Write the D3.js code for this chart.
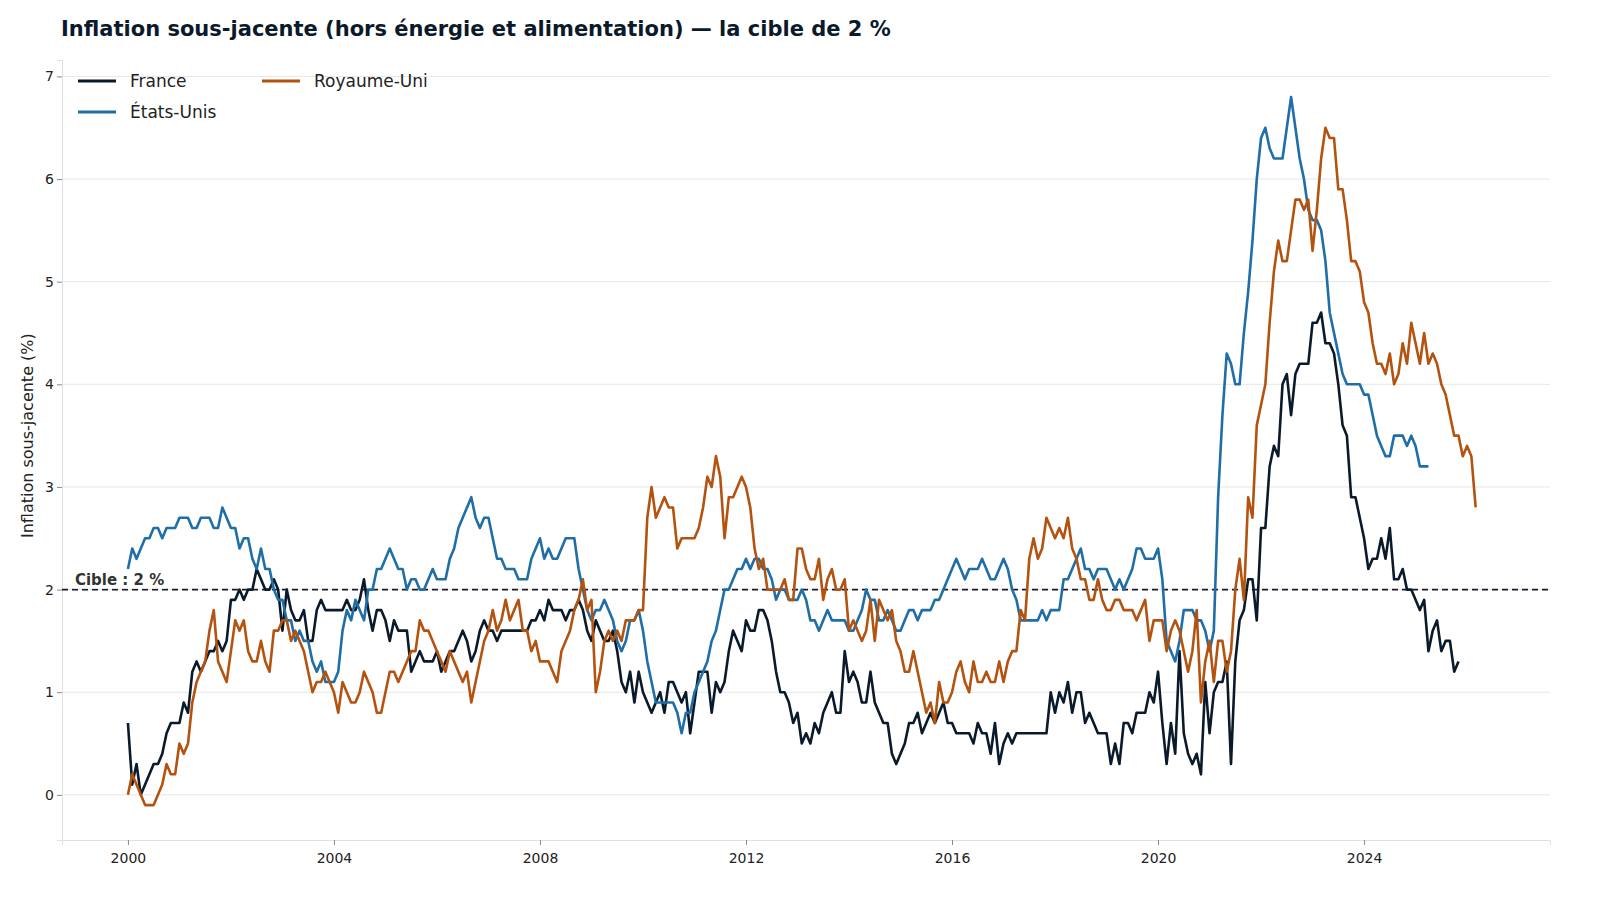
<!DOCTYPE html>
<meta charset="utf-8">
<head>
<script src="https://d3js.org/d3.v7.min.js"></script>
<style>
  html, body { margin: 0; padding: 0; background: #fff; overflow: hidden; font-family: "DejaVu Sans", sans-serif; }
  svg { display: block; }
</style>
</head>
<body>
<div id="chart"></div>
<script>
// monthly values, each series starts Jan 2000
var france = [
  0.7,0.1,0.3,0.0,0.1,0.2,0.3,0.3,0.4,0.6,0.7,0.7,
  0.7,0.9,0.8,1.2,1.3,1.2,1.3,1.4,1.4,1.5,1.4,1.5,
  1.9,1.9,2.0,1.9,2.0,2.0,2.2,2.1,2.0,2.0,2.1,2.0,
  1.6,2.0,1.8,1.7,1.7,1.8,1.5,1.5,1.8,1.9,1.8,1.8,
  1.8,1.8,1.8,1.9,1.8,1.8,1.9,2.1,1.8,1.6,1.8,1.8,
  1.7,1.5,1.7,1.6,1.6,1.6,1.2,1.3,1.4,1.3,1.3,1.3,
  1.4,1.2,1.3,1.4,1.4,1.5,1.6,1.5,1.3,1.4,1.6,1.7,
  1.6,1.6,1.5,1.6,1.6,1.6,1.6,1.6,1.6,1.6,1.7,1.7,
  1.8,1.7,1.9,1.8,1.8,1.8,1.7,1.8,1.8,1.9,1.8,1.6,
  1.5,1.7,1.6,1.5,1.5,1.6,1.4,1.1,1.0,1.2,0.9,1.2,
  1.0,0.9,0.8,0.9,1.0,0.8,1.1,1.1,1.0,0.9,1.0,0.6,
  0.9,1.2,1.2,1.2,0.8,1.1,1.0,1.1,1.4,1.6,1.5,1.4,
  1.7,1.6,1.6,1.8,1.8,1.7,1.5,1.2,1.0,1.0,0.9,0.7,
  0.8,0.5,0.6,0.5,0.7,0.6,0.8,0.9,1.0,0.8,0.8,1.4,
  1.1,1.2,1.1,0.9,0.9,1.2,0.9,0.8,0.7,0.7,0.4,0.3,
  0.4,0.5,0.7,0.7,0.8,0.6,0.7,0.8,0.7,0.8,0.9,0.7,
  0.7,0.6,0.6,0.6,0.6,0.5,0.7,0.6,0.6,0.4,0.7,0.3,
  0.5,0.6,0.5,0.6,0.6,0.6,0.6,0.6,0.6,0.6,0.6,1.0,
  0.8,1.0,0.9,1.1,0.8,1.0,1.0,0.7,0.8,0.7,0.6,0.6,
  0.6,0.3,0.5,0.3,0.7,0.7,0.6,0.8,0.8,0.8,1.0,0.9,
  1.2,0.7,0.3,0.7,0.4,1.4,0.6,0.4,0.3,0.4,0.2,1.1,
  0.6,1.0,1.1,1.1,1.3,0.3,1.3,1.7,1.8,2.1,2.1,1.7,
  2.6,2.6,3.2,3.4,3.3,4.0,4.1,3.7,4.1,4.2,4.2,4.2,
  4.6,4.6,4.7,4.4,4.4,4.3,4.0,3.6,3.5,2.9,2.9,2.7,
  2.5,2.2,2.3,2.3,2.5,2.3,2.6,2.1,2.1,2.2,2.0,2.0,
  1.9,1.8,1.9,1.4,1.6,1.7,1.4,1.5,1.5,1.2,1.3
];
var etatsUnis = [
  2.2,2.4,2.3,2.4,2.5,2.5,2.6,2.6,2.5,2.6,2.6,2.6,
  2.7,2.7,2.7,2.6,2.6,2.7,2.7,2.7,2.6,2.6,2.8,2.7,
  2.6,2.6,2.4,2.5,2.5,2.3,2.2,2.4,2.2,2.2,2.0,1.9,
  1.9,1.7,1.7,1.5,1.6,1.5,1.5,1.3,1.2,1.3,1.1,1.1,
  1.1,1.2,1.6,1.8,1.7,1.9,1.8,1.7,2.0,2.0,2.2,2.2,
  2.3,2.4,2.3,2.2,2.2,2.0,2.1,2.1,2.0,2.0,2.1,2.2,
  2.1,2.1,2.1,2.3,2.4,2.6,2.7,2.8,2.9,2.7,2.6,2.7,
  2.7,2.5,2.3,2.3,2.2,2.2,2.2,2.1,2.1,2.1,2.3,2.4,
  2.5,2.3,2.4,2.3,2.3,2.4,2.5,2.5,2.5,2.2,2.0,1.8,
  1.7,1.8,1.8,1.9,1.8,1.7,1.5,1.4,1.5,1.7,1.7,1.8,
  1.6,1.3,1.1,0.9,0.9,0.9,0.9,0.9,0.8,0.6,0.8,0.8,
  1.0,1.1,1.2,1.3,1.5,1.6,1.8,2.0,2.0,2.1,2.2,2.2,
  2.3,2.2,2.3,2.3,2.2,2.2,2.1,1.9,2.0,2.0,1.9,1.9,
  1.9,2.0,1.9,1.7,1.7,1.6,1.7,1.8,1.7,1.7,1.7,1.7,
  1.6,1.6,1.7,1.8,2.0,1.9,1.9,1.7,1.7,1.8,1.7,1.6,
  1.6,1.7,1.8,1.8,1.7,1.8,1.8,1.8,1.9,1.9,2.0,2.1,
  2.2,2.3,2.2,2.1,2.2,2.2,2.2,2.3,2.2,2.1,2.1,2.2,
  2.3,2.2,2.0,1.9,1.7,1.7,1.7,1.7,1.7,1.8,1.7,1.8,
  1.8,1.8,2.1,2.1,2.2,2.3,2.4,2.2,2.2,2.1,2.2,2.2,
  2.2,2.1,2.0,2.1,2.0,2.1,2.2,2.4,2.4,2.3,2.3,2.3,
  2.4,2.1,1.5,1.4,1.3,1.5,1.8,1.8,1.8,1.7,1.7,1.6,
  1.4,1.6,2.9,3.7,4.3,4.2,4.0,4.0,4.5,4.9,5.4,6.0,
  6.4,6.5,6.3,6.2,6.2,6.2,6.5,6.8,6.5,6.2,6.0,5.7,
  5.6,5.6,5.5,5.2,4.7,4.5,4.3,4.1,4.0,4.0,4.0,4.0,
  3.9,3.9,3.7,3.5,3.4,3.3,3.3,3.5,3.5,3.5,3.4,3.5,
  3.4,3.2,3.2,3.2
];
var royaumeUni = [
  0.0,0.2,0.1,0.0,-0.1,-0.1,-0.1,0.0,0.1,0.3,0.2,0.2,
  0.5,0.4,0.5,0.9,1.1,1.2,1.3,1.6,1.8,1.3,1.2,1.1,
  1.4,1.7,1.6,1.7,1.4,1.3,1.3,1.5,1.3,1.2,1.6,1.6,
  1.7,1.7,1.5,1.6,1.5,1.4,1.2,1.0,1.1,1.1,1.2,1.1,
  1.0,0.8,1.1,1.0,0.9,0.9,1.0,1.2,1.1,1.0,0.8,0.8,
  1.0,1.2,1.2,1.1,1.2,1.3,1.4,1.4,1.7,1.6,1.6,1.5,
  1.4,1.3,1.2,1.4,1.3,1.2,1.1,1.2,0.9,1.1,1.3,1.5,
  1.6,1.8,1.6,1.7,1.9,1.7,1.8,1.9,1.6,1.6,1.4,1.5,
  1.3,1.3,1.3,1.2,1.1,1.4,1.5,1.6,1.8,1.9,2.1,1.8,
  1.9,1.0,1.2,1.5,1.6,1.5,1.6,1.5,1.7,1.7,1.7,1.8,
  1.8,2.7,3.0,2.7,2.8,2.9,2.8,2.8,2.4,2.5,2.5,2.5,
  2.5,2.6,2.8,3.1,3.0,3.3,3.1,2.5,2.9,2.9,3.0,3.1,
  3.0,2.8,2.4,2.2,2.3,2.0,2.0,2.0,2.0,2.1,1.9,1.9,
  2.4,2.4,2.2,2.1,2.1,2.3,1.9,2.1,2.2,2.0,2.0,2.1,
  1.6,1.7,1.6,1.5,1.6,1.9,1.5,1.9,1.8,1.7,1.8,1.5,
  1.4,1.2,1.2,1.4,1.2,1.0,0.8,0.9,0.7,1.1,0.9,0.9,
  1.0,1.2,1.3,1.1,1.0,1.3,1.1,1.1,1.2,1.1,1.1,1.3,
  1.1,1.3,1.4,1.4,1.8,1.7,2.3,2.5,2.3,2.4,2.7,2.6,
  2.5,2.6,2.5,2.7,2.4,2.3,2.1,2.1,1.9,1.9,2.1,1.9,
  1.8,1.8,1.9,1.9,1.8,1.8,1.8,1.7,1.8,1.9,1.5,1.7,
  1.7,1.7,1.4,1.6,1.7,1.6,1.4,1.2,1.4,1.8,0.9,1.3,
  1.5,1.1,1.5,1.5,1.2,1.4,2.0,2.3,1.9,2.9,2.7,3.6,
  3.8,4.0,4.6,5.1,5.4,5.2,5.2,5.5,5.8,5.8,5.7,5.8,
  5.3,5.7,6.2,6.5,6.4,6.4,5.9,5.9,5.6,5.2,5.2,5.1,
  4.8,4.7,4.4,4.2,4.2,4.1,4.3,4.0,4.1,4.4,4.2,4.6,
  4.4,4.2,4.5,4.2,4.3,4.2,4.0,3.9,3.7,3.5,3.5,3.3,
  3.4,3.3,2.8
];
var xTicks = [2000, 2004, 2008, 2012, 2016, 2020, 2024];
var yTicks = [0, 1, 2, 3, 4, 5, 6, 7];
var cible = 2;

var series = [
  {name: "France", values: france, color: "#0b1a2b"},
  {name: "États-Unis", values: etatsUnis, color: "#1f6ea8"},
  {name: "Royaume-Uni", values: royaumeUni, color: "#b4530f"}
];

var W = 1600, H = 900;
var margin = {top: 60, right: 50, bottom: 60, left: 62},
    width = W - margin.left - margin.right,
    height = H - margin.top - margin.bottom;

var svg = d3.select("#chart").append("svg")
    .attr("width", W).attr("height", H);

svg.append("text")
  .attr("x", 61).attr("y", 36)
  .style("font-size", "21px").style("font-weight", "bold").attr("fill", "#0b1a2b")
  .text("Inflation sous-jacente (hors énergie et alimentation) — la cible de 2 %");

var g = svg.append("g").attr("transform", "translate(" + margin.left + "," + margin.top + ")");

var x = d3.scaleLinear().domain([1998.72, 2027.61]).range([0, width]);
var y = d3.scaleLinear().domain([-0.44, 7.16]).range([height, 0]);

// grid
g.selectAll(".grid").data(yTicks).enter().append("line")
  .attr("x1", 0).attr("x2", width)
  .attr("y1", function(d) { return y(d); }).attr("y2", function(d) { return y(d); })
  .attr("stroke", "#e6e6e6").attr("stroke-width", 1);

// axes
var xa = g.append("g").attr("transform", "translate(0," + height + ")")
  .call(d3.axisBottom(x).tickValues(xTicks).tickFormat(d3.format("d")).tickSize(5));
var ya = g.append("g")
  .call(d3.axisLeft(y).tickValues(yTicks).tickSize(5));
[xa, ya].forEach(function(a) {
  a.select(".domain").attr("stroke", "#e0e0e0");
  a.selectAll(".tick line").attr("stroke", "#888");
  a.selectAll("text").style("font-size", "14px").attr("fill", "#222")
    .style("font-family", "DejaVu Sans");
});
xa.selectAll("text").attr("dy", "1.1em");

svg.append("text")
  .attr("transform", "translate(33," + (margin.top + y(3.5)) + ") rotate(-90)")
  .attr("text-anchor", "middle").style("font-size", "16px").attr("fill", "#222")
  .text("Inflation sous-jacente (%)");

// target line
g.append("line")
  .attr("x1", 0).attr("x2", width).attr("y1", y(cible)).attr("y2", y(cible))
  .attr("stroke", "#1a1a2a").attr("stroke-width", 1.6).attr("stroke-dasharray", "6,4");

var line = d3.line()
  .x(function(d, i) { return x(2000 + i / 12); })
  .y(function(d) { return y(d); });

series.forEach(function(s) {
  g.append("path").datum(s.values)
    .attr("fill", "none").attr("stroke", s.color).attr("stroke-width", 2.6)
    .attr("stroke-linejoin", "round")
    .attr("d", line);
});

var lbl = g.append("g");
var lt = lbl.append("text")
  .attr("x", x(1998.97)).attr("y", y(cible) - 5)
  .style("font-size", "15px").style("font-weight", "bold").attr("fill", "#333")
  .text("Cible : 2 %");
var bb = lt.node().getBBox();
lbl.insert("rect", "text")
  .attr("x", bb.x - 2).attr("y", bb.y).attr("width", bb.width + 4).attr("height", bb.height)
  .attr("fill", "#fff").attr("opacity", 0.85);

// legend
var legPos = [[78, 81], [78, 112], [262, 81]];
series.forEach(function(s, i) {
  var p = legPos[i];
  svg.append("line").attr("x1", p[0]).attr("x2", p[0] + 38).attr("y1", p[1]).attr("y2", p[1])
    .attr("stroke", s.color).attr("stroke-width", 3);
  svg.append("text").attr("x", p[0] + 52).attr("y", p[1] + 6)
    .style("font-size", "17px").attr("fill", "#222").text(s.name);
});
</script>
</body>
